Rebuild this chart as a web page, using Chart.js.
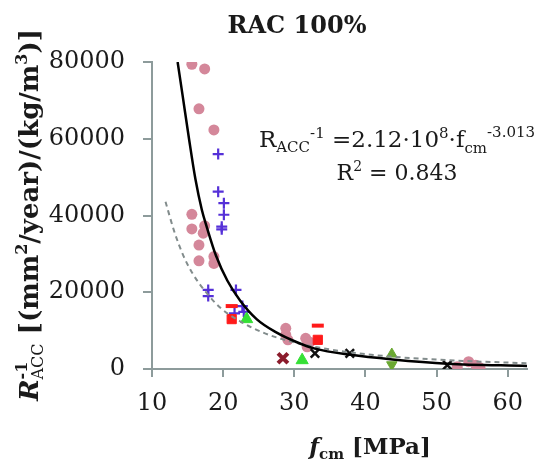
<!DOCTYPE html>
<html>
<head>
<meta charset="utf-8">
<script src="https://cdn.jsdelivr.net/npm/chart.js@4.4.0/dist/chart.umd.min.js"></script>
<style>
  html, body { margin: 0; padding: 0; background: #fff; }
  #wrap { width: 538px; height: 461px; position: relative; }
</style>
</head>
<body>
<div id="wrap"><canvas id="rac" width="538" height="461"></canvas></div>
<script>
// axis ticks
const xTicks = [10, 20, 30, 40, 50, 60];
const yTicks = [0, 20000, 40000, 60000, 80000];

const pinkX = [15.6, 17.4, 16.6, 18.7, 15.6, 15.6, 17.4, 17.2, 16.6, 16.6, 18.7, 18.7, 28.8, 28.8, 29.1, 31.6, 31.8, 32.2, 52.9, 54.5, 55.5, 56.1];
const pinkY = [79400, 78200, 67800, 62300, 40300, 36500, 37300, 35400, 32300, 28200, 29300, 27500, 10600, 8900, 7600, 8000, 5800, 7000, 600, 1900, 1000, 300];

const plusX = [19.3, 19.3, 20.1, 20.1, 19.8, 19.8, 17.9, 17.9, 21.8, 22.7, 22.9, 21.6];
const plusY = [56000, 46200, 43200, 40200, 37100, 36400, 20600, 19000, 20600, 16400, 14900, 14500];

const dashRedX = [21.2, 33.3];
const dashRedY = [16400, 11300];
const squareRedX = [21.2, 33.3];
const squareRedY = [13000, 7600];

const triX = [23.3, 31.1];
const triY = [13000, 2300];

const maroonX = [28.4];
const maroonY = [2800];

const crossX = [32.9, 37.8, 51.5];
const crossY = [4100, 4100, 1000];

const oliveX = [43.7, 43.7];
const oliveY = [3900, 1100];

// power-law trend (solid) and the dashed reference curve
const fitX = [13.6, 14.3, 15.2, 16.1, 17.0, 17.7, 19.0, 20.6, 22.4, 24.7, 27.4, 30.2, 32.9, 37.9, 43.8, 51.5, 62.7];
const fitY = [80000, 71300, 60000, 49500, 41500, 37000, 29500, 23000, 17800, 13000, 9600, 7100, 5300, 3700, 2500, 1400, 800];

const refX = [11.9, 13.1, 14.3, 15.6, 17.5, 19.7, 22.5, 25.6, 28.8, 31.0, 34.0, 38.0, 43.8, 51.5, 62.7];
const refY = [43600, 36000, 30000, 25200, 20200, 15800, 12300, 9500, 7500, 6500, 5400, 4300, 3200, 2300, 1500];

const AXIS = '#8d9b9b';
const TXT = '#1a1a1a';
const SERIF = "'DejaVu Serif', serif";

function pts(xs, ys) {
    return xs.map((x, i) => ({ x: x, y: ys[i] }));
}

// draws a run of text pieces (sub/superscripts), centred on x
function drawRich(ctx, parts, x, y) {
    let w = 0;
    parts.forEach(p => {
        ctx.font = p.font;
        p.w = ctx.measureText(p.t).width;
        if (!p.stack) w += p.w;
    });
    let cx = x - w / 2;
    parts.forEach(p => {
        ctx.font = p.font;
        ctx.fillText(p.t, cx, y + (p.dy || 0));
        if (!p.stack) cx += p.w;
    });
}

const textPlugin = {
    id: 'richText',
    afterDraw(chart) {
        const ctx = chart.ctx;
        ctx.save();
        ctx.fillStyle = TXT;
        ctx.textAlign = 'left';
        ctx.textBaseline = 'alphabetic';

        // title
        ctx.font = 'bold 24px ' + SERIF;
        ctx.textAlign = 'center';
        ctx.fillText('RAC 100%', 297, 33);
        ctx.textAlign = 'left';

        // equation
        drawRich(ctx, [
            { t: 'R', font: '23px ' + SERIF },
            { t: 'ACC', font: '15px ' + SERIF, dy: 5 },
            { t: '-1', font: '15px ' + SERIF, dy: -9 },
            { t: ' =2.12·10', font: '23px ' + SERIF },
            { t: '8', font: '15px ' + SERIF, dy: -9 },
            { t: '·f', font: '23px ' + SERIF },
            { t: 'cm', font: '15px ' + SERIF, dy: 6 },
            { t: '-3.013', font: '15px ' + SERIF, dy: -10 }
        ], 397, 147);
        drawRich(ctx, [
            { t: 'R', font: '22px ' + SERIF },
            { t: '2', font: '14px ' + SERIF, dy: -9 },
            { t: ' = 0.843', font: '22px ' + SERIF }
        ], 397, 180);

        // x axis title
        drawRich(ctx, [
            { t: 'f', font: 'italic bold 23px ' + SERIF },
            { t: 'cm', font: 'bold 15px ' + SERIF, dy: 5 },
            { t: ' [MPa]', font: 'bold 23px ' + SERIF }
        ], 370, 454);

        // y axis title, rotated
        ctx.translate(38, 215);
        ctx.rotate(-Math.PI / 2);
        drawRich(ctx, [
            { t: 'R', font: 'italic bold 26px ' + SERIF },
            { t: '-1', font: 'bold 16px ' + SERIF, dy: -11, stack: true },
            { t: 'ACC', font: '16px ' + SERIF, dy: 5 },
            { t: ' [(mm', font: 'bold 26px ' + SERIF },
            { t: '2', font: 'bold 16px ' + SERIF, dy: -11 },
            { t: '/year)/(kg/m', font: 'bold 26px ' + SERIF },
            { t: '3', font: 'bold 16px ' + SERIF, dy: -11 },
            { t: ')]', font: 'bold 26px ' + SERIF }
        ], 0, 0);
        ctx.restore();
    }
};

const marker = (label, xs, ys, style, color, extra) => Object.assign({
    label: label,
    data: pts(xs, ys),
    pointStyle: style,
    backgroundColor: color,
    borderColor: color,
    pointRadius: 5,
    borderWidth: 1,
    showLine: false
}, extra || {});

new Chart(document.getElementById('rac'), {
    type: 'scatter',
    data: {
        datasets: [
            {
                label: 'fit',
                data: pts(fitX, fitY),
                showLine: true,
                borderColor: '#000',
                borderWidth: 2.5,
                pointRadius: 0,
                cubicInterpolationMode: 'monotone'
            },
            {
                label: 'ref',
                data: pts(refX, refY),
                showLine: true,
                borderColor: '#828c8c',
                borderWidth: 2,
                borderDash: [5, 4],
                pointRadius: 0,
                cubicInterpolationMode: 'monotone'
            },
            marker('cross', crossX, crossY, 'crossRot', '#111', { borderWidth: 2.5, pointRadius: 6 }),
            marker('maroon', maroonX, maroonY, 'crossRot', '#8b1c2c', { borderWidth: 4, pointRadius: 7 }),
            marker('olive', oliveX, oliveY, 'triangle', '#6aa832', { pointRadius: 6, rotation: [0, 180] }),
            marker('tri', triX, triY, 'triangle', '#35e035', { pointRadius: 7 }),
            marker('dash', dashRedX, dashRedY, 'line', '#ff1a1a', { borderWidth: 4, pointRadius: 6 }),
            marker('square', squareRedX, squareRedY, 'rect', '#ff1a1a', { pointRadius: 6.5 }),
            marker('plus', plusX, plusY, 'cross', '#5530d8', { borderWidth: 2.2, pointRadius: 5.5 }),
            marker('pink', pinkX, pinkY, 'circle', '#d4879a', { pointRadius: 5.5, borderWidth: 0 })
        ]
    },
    options: {
        responsive: false,
        animation: false,
        layout: { padding: { top: 62, left: 0, right: 0, bottom: 0 } },
        plugins: {
            legend: { display: false },
            tooltip: { enabled: false }
        },
        scales: {
            x: {
                type: 'linear',
                min: 10,
                max: 62.7,
                afterBuildTicks: s => { s.ticks = xTicks.map(v => ({ value: v })); },
                afterFit: s => { s.height = 92; },
                ticks: {
                    color: TXT,
                    padding: 12,
                    font: { family: SERIF, size: 24 }
                },
                grid: { drawOnChartArea: false, drawTicks: true, tickLength: 8, color: AXIS, lineWidth: 2 },
                border: { color: AXIS, width: 2 }
            },
            y: {
                min: 0,
                max: 80000,
                afterBuildTicks: s => { s.ticks = yTicks.map(v => ({ value: v })); },
                afterFit: s => { s.width = 152; },
                ticks: {
                    color: TXT,
                    padding: 18,
                    font: { family: SERIF, size: 24 },
                    callback: v => String(v)
                },
                grid: { drawOnChartArea: false, drawTicks: true, tickLength: 9, color: AXIS, lineWidth: 2 },
                border: { color: AXIS, width: 2 }
            }
        }
    },
    plugins: [textPlugin]
});
</script>
</body>
</html>
